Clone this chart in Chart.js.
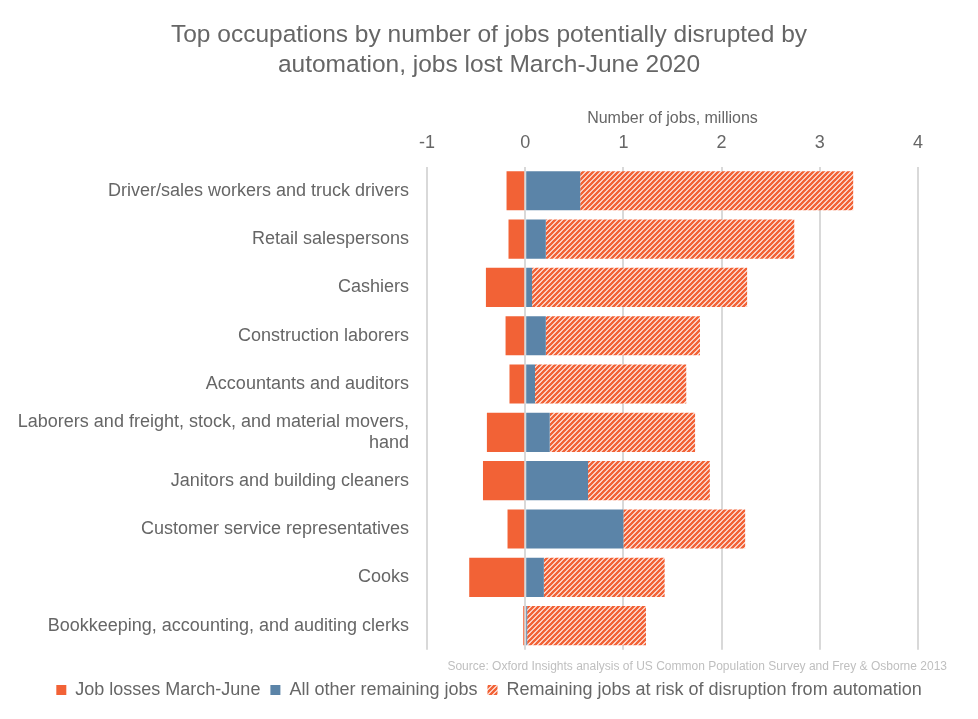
<!DOCTYPE html>
<html>
<head>
<meta charset="utf-8">
<script src="https://cdn.jsdelivr.net/npm/chart.js@4"></script>
<style>
  html, body { margin: 0; padding: 0; background: #fff; }
  #wrap { width: 978px; height: 719px; position: relative; }
</style>
</head>
<body>
<div id="wrap"><canvas id="grafico_ocupacoes"></canvas></div>
<script>
// ----------------------- dados --------------------------------------------//

var categorias = [
    'Driver/sales workers and truck drivers',
    'Retail salespersons',
    'Cashiers',
    'Construction laborers',
    'Accountants and auditors',
    ['Laborers and freight, stock, and material movers,', 'hand'],
    'Janitors and building cleaners',
    'Customer service representatives',
    'Cooks',
    'Bookkeeping, accounting, and auditing clerks'
];
var perdas = [-0.19, -0.17, -0.40, -0.20, -0.16, -0.39, -0.43, -0.18, -0.57, -0.02];
var outrosEmpregos = [0.56, 0.21, 0.07, 0.21, 0.10, 0.25, 0.64, 1.00, 0.19, 0.02];
var emRisco = [2.78, 2.53, 2.19, 1.57, 1.54, 1.48, 1.24, 1.24, 1.23, 1.21];
var ticksX = [-1, 0, 1, 2, 3, 4];

var laranja = '#F26236';
var azul = '#5B84A8';
var fonte = "'Helvetica Neue', Helvetica, 'Liberation Sans', Arial, sans-serif";
var cinza = '#666666';

// padrão hachurado
function hachura() {
    var c = document.createElement('canvas');
    c.width = 5; c.height = 5;
    var g = c.getContext('2d');
    g.fillStyle = '#fff';
    g.fillRect(0, 0, 5, 5);
    g.strokeStyle = laranja;
    g.lineWidth = 2.6;
    g.beginPath();
    g.moveTo(-1, 6); g.lineTo(6, -1);
    g.moveTo(-3.5, 3.5); g.lineTo(3.5, -3.5);
    g.moveTo(1.5, 8.5); g.lineTo(8.5, 1.5);
    g.stroke();
    return g.createPattern(c, 'repeat');
}

var fonteTexto = {
    id: 'fonteTexto',
    afterDraw: function (chart) {
        var ctx = chart.ctx;
        ctx.save();
        ctx.font = '12px ' + fonte;
        ctx.fillStyle = '#bfbfbf';
        ctx.textAlign = 'right';
        ctx.textBaseline = 'middle';
        ctx.fillText('Source: Oxford Insights analysis of US Common Population Survey and Frey & Osborne 2013', 947, 667);
        ctx.restore();
    }
};

var dados = {
    labels: categorias,
    datasets: [{
        label: 'Job losses March-June',
        data: perdas,
        backgroundColor: laranja
    }, {
        label: 'All other remaining jobs',
        data: outrosEmpregos,
        backgroundColor: azul
    }, {
        label: 'Remaining jobs at risk of disruption from automation',
        data: emRisco,
        backgroundColor: hachura()
    }]
};

var opcoes = {
    indexAxis: 'y',
    responsive: true,
    maintainAspectRatio: false,
    animation: false,
    layout: { padding: { top: 14, right: 0, bottom: 10, left: 0 } },
    datasets: { bar: { barPercentage: 0.81, categoryPercentage: 1 } },
    scales: {
        x: {
            position: 'top',
            stacked: true,
            min: -1,
            max: 4,
            afterBuildTicks: function (s) { s.ticks = ticksX.map(function (v) { return { value: v }; }); },
            grid: { color: '#d9d9d9', lineWidth: 2, drawTicks: false },
            border: { display: false },
            ticks: { padding: 13, color: cinza, font: { family: fonte, size: 18 } },
            title: { display: true, text: 'Number of jobs, millions', color: cinza, padding: { top: 0, bottom: -9 }, font: { family: fonte, size: 16 } }
        },
        y: {
            stacked: true,
            afterFit: function (s) { s.width = 427; },
            grid: { display: false, drawTicks: false },
            border: { display: false },
            ticks: { padding: 18, color: cinza, font: { family: fonte, size: 18 } }
        },
        // margem direita sem afetar a legenda
        yDireita: {
            type: 'category',
            position: 'right',
            afterFit: function (s) { s.width = 60; },
            grid: { display: false, drawTicks: false },
            border: { display: false },
            ticks: { display: false }
        }
    },
    plugins: {
        title: {
            display: true,
            text: ['Top occupations by number of jobs potentially disrupted by', 'automation, jobs lost March-June 2020'],
            color: cinza,
            font: { family: fonte, size: 24.5, weight: 'normal', lineHeight: 1.22 },
            padding: { top: 6, bottom: 29 }
        },
        legend: {
            position: 'bottom',
            align: 'center',
            title: { display: true, text: ' ', font: { size: 1 }, padding: { top: 20, bottom: 0 } },
            labels: { color: cinza, boxWidth: 10, boxHeight: 10, padding: 10, font: { family: fonte, size: 18 } }
        },
        tooltip: { enabled: false }
    }
};

var ctx = document.getElementById('grafico_ocupacoes').getContext('2d');
var grafico_ocupacoes = new Chart(ctx, {
    type: 'bar',
    data: dados,
    options: opcoes,
    plugins: [fonteTexto]
});
</script>
</body>
</html>
